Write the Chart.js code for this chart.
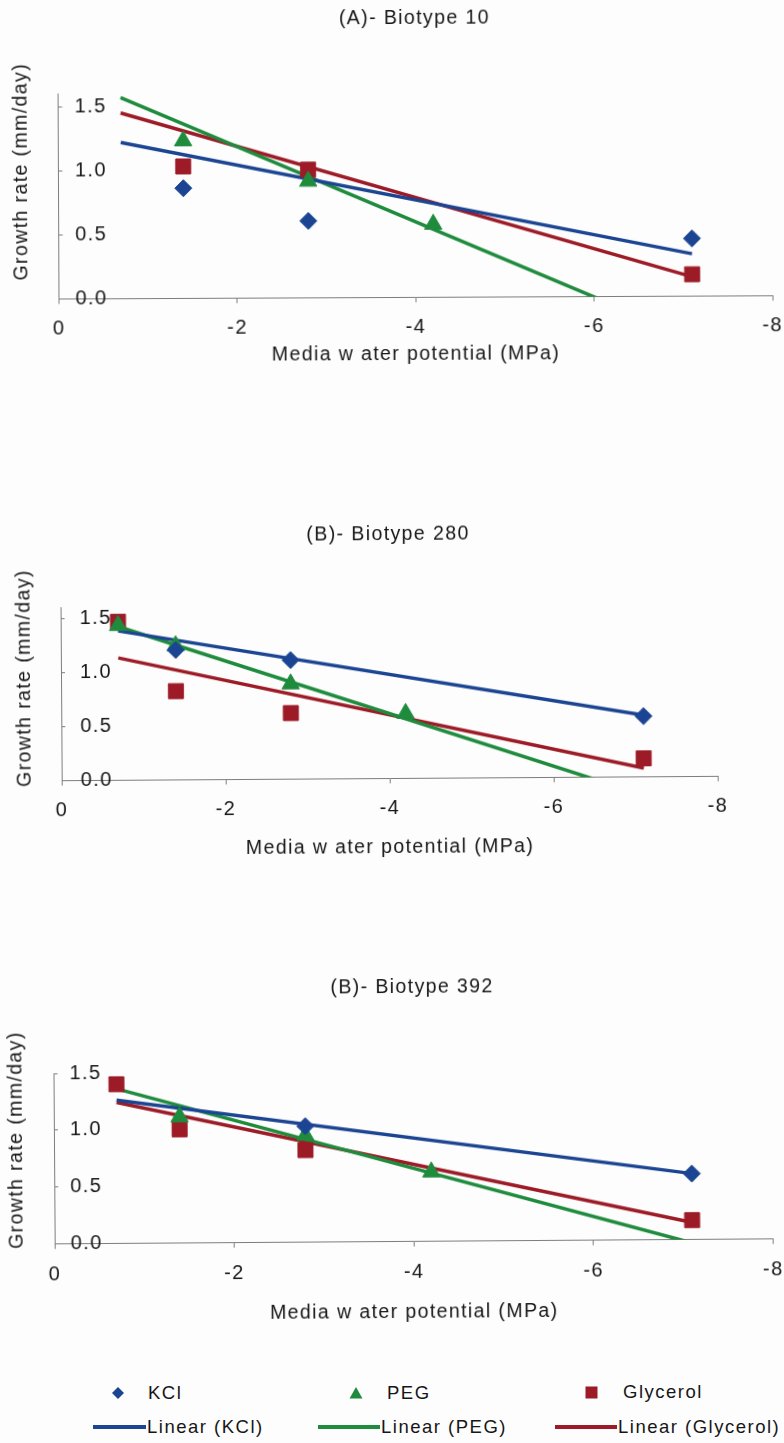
<!DOCTYPE html>
<html>
<head>
<meta charset="utf-8">
<script src="https://cdn.jsdelivr.net/npm/chart.js@4.4.1/dist/chart.umd.min.js"></script>
<style>
  html, body { margin: 0; padding: 0; background: #fdfdfd; }
  body { width: 784px; height: 1443px; position: relative; overflow: hidden;
         font-family: 'Liberation Sans', Arial, sans-serif; color: #161616; }
  canvas { position: absolute; left: 0; }
  #panelA { top: 0;   transform: rotate(-0.26deg); }
  #panelB { top: 480px; transform: rotate(-0.38deg); }
  #panelC { top: 950px; transform: rotate(-0.40deg); }
  .key { position: absolute; font-size: 18.5px; line-height: 20px; letter-spacing: 1.5px; white-space: nowrap; }
  .sym { position: absolute; }
  .bar { position: absolute; height: 4px; }
</style>
</head>
<body>
<canvas id="panelA" width="784" height="380"></canvas>
<canvas id="panelB" width="784" height="390"></canvas>
<canvas id="panelC" width="784" height="390"></canvas>

<!-- shared key for the three panels -->
<svg class="sym" style="left:111px;top:1386px" width="14" height="14"><polygon points="7,1 13,7 7,13 1,7" fill="#1b4592"/></svg>
<div class="key" style="left:148px;top:1383px">KCl</div>
<svg class="sym" style="left:349px;top:1386px" width="14" height="14"><polygon points="7,1 13.5,12.5 0.5,12.5" fill="#1f8b3d"/></svg>
<div class="key" style="left:387px;top:1383px">PEG</div>
<svg class="sym" style="left:585px;top:1386px" width="13" height="13"><rect x="0.5" y="0.5" width="12" height="12" fill="#9d1b27"/></svg>
<div class="key" style="left:623px;top:1382px">Glycerol</div>

<div class="bar" style="left:93px;top:1425px;width:53px;background:#1b4592"></div>
<div class="key" style="left:147px;top:1417px">Linear (KCl)</div>
<div class="bar" style="left:318px;top:1425px;width:62px;background:#1f8b3d"></div>
<div class="key" style="left:381px;top:1417px">Linear (PEG)</div>
<div class="bar" style="left:555px;top:1425px;width:62px;background:#9d1b27"></div>
<div class="key" style="left:618px;top:1417px">Linear (Glycerol)</div>

<script>
// ---- axis ticks ----
const xTicks = [0, -2, -4, -6, -8];          // media water potential (MPa)
const yTicks = [0, 0.5, 1.0, 1.5];           // growth rate (mm/day)
const fitX = [-0.7, -7.1];                   // span of the linear trend lines

// ---- Biotype 10 ----
const b10KClX = [-1.4, -2.8, -7.1];
const b10KClY = [0.86, 0.60, 0.45];
const b10PegX = [-1.4, -2.8, -4.2];
const b10PegY = [1.23, 0.91, 0.57];
const b10GlyX = [-1.4, -2.8, -7.1];
const b10GlyY = [1.03, 1.00, 0.17];
const b10KClFit = [1.22, 0.33];
const b10PegFit = [1.57, -0.33];
const b10GlyFit = [1.45, 0.15];

// ---- Biotype 280 ----
const b280KClX = [-1.4, -2.8, -7.1];
const b280KClY = [1.20, 1.10, 0.56];
const b280PegX = [-0.7, -1.4, -2.8, -4.2];
const b280PegY = [1.43, 1.24, 0.88, 0.60];
const b280GlyX = [-0.7, -1.4, -2.8, -7.1];
const b280GlyY = [1.465, 0.82, 0.61, 0.17];
const b280KClFit = [1.38, 0.57];
const b280PegFit = [1.42, -0.17];
const b280GlyFit = [1.13, 0.08];

// ---- Biotype 392 ----
const b392KClX = [-2.8, -7.1];
const b392KClY = [1.02, 0.58];
const b392PegX = [-1.4, -2.8, -4.2];
const b392PegY = [1.11, 0.94, 0.61];
const b392GlyX = [-0.7, -1.4, -2.8, -7.1];
const b392GlyY = [1.40, 1.00, 0.81, 0.17];
const b392KClFit = [1.26, 0.58];
const b392PegFit = [1.36, -0.03];
const b392GlyFit = [1.24, 0.15];

const BLUE = '#1b4592', GREEN = '#1f8b3d', RED = '#9d1b27';
const INK = '#161616', AXIS = '#7d7d7d';
const FONT = "'Liberation Sans', Arial, sans-serif";
const SPACING = '1.4px';

// wide letter spacing for every label drawn on the canvases
const tracking = {
  id: 'tracking',
  beforeLayout(chart) { chart.ctx.letterSpacing = SPACING; },
  beforeDraw(chart) { chart.ctx.letterSpacing = SPACING; }
};

// rotated y-axis caption, placed independently of the axis box
const yCaption = {
  id: 'yCaption',
  afterDraw(chart, args, o) {
    const ctx = chart.ctx;
    ctx.save();
    ctx.letterSpacing = SPACING;
    ctx.font = o.size + 'px ' + FONT;
    ctx.fillStyle = INK;
    ctx.textAlign = 'center';
    ctx.textBaseline = 'middle';
    ctx.translate(o.x, o.y);
    ctx.rotate(-Math.PI / 2);
    ctx.fillText(o.text, 0, 0);
    ctx.restore();
  }
};

const pairs = (xs, ys) => xs.map((x, i) => ({ x, y: ys[i] }));

function markerSet(label, xs, ys, style, radius, color) {
  return {
    label, data: pairs(xs, ys), showLine: false, order: 0,
    pointStyle: style, pointRadius: radius,
    pointBackgroundColor: color, pointBorderColor: color, pointBorderWidth: 1
  };
}

function fitSet(label, ys, color) {
  return {
    label, data: pairs(fitX, ys), showLine: true, order: 1,
    borderColor: color, borderWidth: 3.5, pointRadius: 0, fill: false, clip: 0
  };
}

function panel(id, title, series, L) {
  return new Chart(document.getElementById(id), {
    type: 'scatter',
    data: {
      datasets: [
        markerSet('KCl', series.kclX, series.kclY, 'rectRot', 8.5, BLUE),
        markerSet('PEG', series.pegX, series.pegY, 'triangle', 10, GREEN),
        markerSet('Glycerol', series.glyX, series.glyY, 'rect', 10.6, RED),
        fitSet('Linear (KCl)', series.kclFit, BLUE),
        fitSet('Linear (PEG)', series.pegFit, GREEN),
        fitSet('Linear (Glycerol)', series.glyFit, RED)
      ]
    },
    options: {
      responsive: false,
      animation: false,
      events: [],
      layout: { padding: { left: L.padLeft, right: L.padRight, top: 0, bottom: L.padBottom } },
      plugins: {
        legend: { display: false },
        tooltip: { enabled: false },
        title: {
          display: true, text: title, fullSize: false, color: INK,
          font: { family: FONT, size: 19.5, weight: 'normal' },
          padding: { top: L.titleTop, bottom: L.titleBottom }
        },
        yCaption: { text: 'Growth rate (mm/day)', x: L.capX, y: L.capY, size: 19.5 }
      },
      scales: {
        x: {
          type: 'linear', min: -8, max: 0, reverse: true,
          afterBuildTicks: sc => { sc.ticks = xTicks.map(v => ({ value: v })); },
          afterFit: sc => { sc.paddingLeft = 0; sc.paddingRight = 0; },
          ticks: { color: INK, font: { family: FONT, size: 20 }, padding: 13.5,
                   maxRotation: 0, autoSkip: false, callback: v => String(v) },
          grid: { drawOnChartArea: false, drawTicks: true, tickLength: 5, color: AXIS },
          border: { color: AXIS, width: 1 },
          title: { display: true, text: 'Media w ater potential (MPa)', color: INK,
                   font: { family: FONT, size: 19.5 }, padding: { top: L.xTitleTop, bottom: 0 } }
        },
        y: {
          type: 'linear', min: 0, max: L.yMax,
          afterBuildTicks: sc => { sc.ticks = yTicks.map(v => ({ value: v })); },
          ticks: { mirror: true, padding: L.yLabelPad, color: INK, autoSkip: false,
                   font: { family: FONT, size: 20 }, callback: v => v.toFixed(1) },
          grid: { drawOnChartArea: false, drawTicks: true, tickLength: -4, color: AXIS },
          border: { color: AXIS, width: 1 }
        }
      }
    },
    plugins: [tracking, yCaption]
  });
}

panel('panelA', '(A)- Biotype 10',
  { kclX: b10KClX, kclY: b10KClY, pegX: b10PegX, pegY: b10PegY, glyX: b10GlyX, glyY: b10GlyY,
    kclFit: b10KClFit, pegFit: b10PegFit, glyFit: b10GlyFit },
  { padLeft: 29.5, padRight: 12, padBottom: 13.2, titleTop: 6.8, titleBottom: 62.3,
    xTitleTop: -10, yMax: 1.6, yLabelPad: 16.5, capX: 22, capY: 170 });

panel('panelB', '(B)- Biotype 280',
  { kclX: b280KClX, kclY: b280KClY, pegX: b280PegX, pegY: b280PegY, glyX: b280GlyX, glyY: b280GlyY,
    kclFit: b280KClFit, pegFit: b280PegFit, glyFit: b280GlyFit },
  { padLeft: 27, padRight: 67, padBottom: 11, titleTop: 43.3, titleBottom: 58.6,
    xTitleTop: 1.2, yMax: 1.6, yLabelPad: 19, capX: 25, capY: 195.6 });

panel('panelC', '(B)- Biotype 392',
  { kclX: b392KClX, kclY: b392KClY, pegX: b392PegX, pegY: b392PegY, glyX: b392GlyX, glyY: b392GlyY,
    kclFit: b392KClFit, pegFit: b392PegFit, glyFit: b392GlyFit },
  { padLeft: 26, padRight: 8.5, padBottom: 16, titleTop: 26.3, titleBottom: 71.3,
    xTitleTop: 3, yMax: 1.5, yLabelPad: 16, capX: 17, capY: 187.4 });
</script>
</body>
</html>
